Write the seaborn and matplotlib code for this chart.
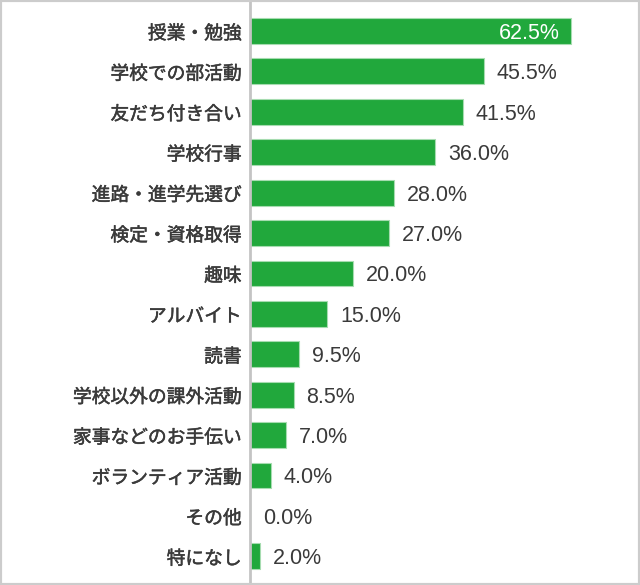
import matplotlib
matplotlib.use("Agg")
import matplotlib.pyplot as plt
import matplotlib.patheffects as pe
import seaborn as sns
import pandas as pd
from matplotlib.patches import Rectangle

categories = ["授業・勉強", "学校での部活動", "友だち付き合い", "学校行事", "進路・進学先選び",
              "検定・資格取得", "趣味", "アルバイト", "読書", "学校以外の課外活動",
              "家事などのお手伝い", "ボランティア活動", "その他", "特になし"]
values = [62.5, 45.5, 41.5, 36.0, 28.0, 27.0, 20.0, 15.0, 9.5, 8.5, 7.0, 4.0, 0.0, 2.0]
value_labels = [f"{v:.1f}%" for v in values]

sns.set_theme(style="white")
plt.rcParams['font.family'] = ['Noto Sans CJK JP', 'DejaVu Sans']

df = pd.DataFrame({"cat": categories, "val": values})

fig = plt.figure(figsize=(6.4, 5.85), dpi=100)
ax = fig.add_axes([250/640, 0, 388/640, 1])

sns.barplot(data=df, x="val", y="cat", orient="h", color="#21a83c", saturation=1,
            width=0.64, edgecolor="#a6dcb0", linewidth=0.8, ax=ax)

ax.set_xlim(0, 388/5.136)
ax.set_ylim(13.71, -0.767)

for i, (v, lab) in enumerate(zip(values, value_labels)):
    if i == 0:
        ax.text(v - 2.2, i, lab, ha="right", va="center_baseline", color="white", fontsize=15.5,
                family=['Liberation Sans', 'DejaVu Sans'])
    else:
        ax.text(v + 2.5, i, lab, ha="left", va="center_baseline", color="#3a3a3a", fontsize=15.5,
                family=['Liberation Sans', 'DejaVu Sans'])

ax.set_xlabel("")
ax.set_ylabel("")
ax.set_xticks([])
ax.tick_params(axis="y", length=0, pad=6)
for lab in ax.get_yticklabels():
    lab.set_fontsize(13.5)
    lab.set_color("#3a3a3a")
    lab.set_fontweight("normal")
    lab.set_path_effects([pe.withStroke(linewidth=0.35, foreground="#3a3a3a")])

for s in ["top", "right", "bottom"]:
    ax.spines[s].set_visible(False)
ax.spines["left"].set_color("#c4c4c4")
ax.spines["left"].set_linewidth(2)

fig.patches.append(Rectangle((0, 0), 1, 1, transform=fig.transFigure, fill=False,
                             edgecolor="#cccccc", linewidth=3, zorder=10))

fig.savefig("out.png", dpi=100)
